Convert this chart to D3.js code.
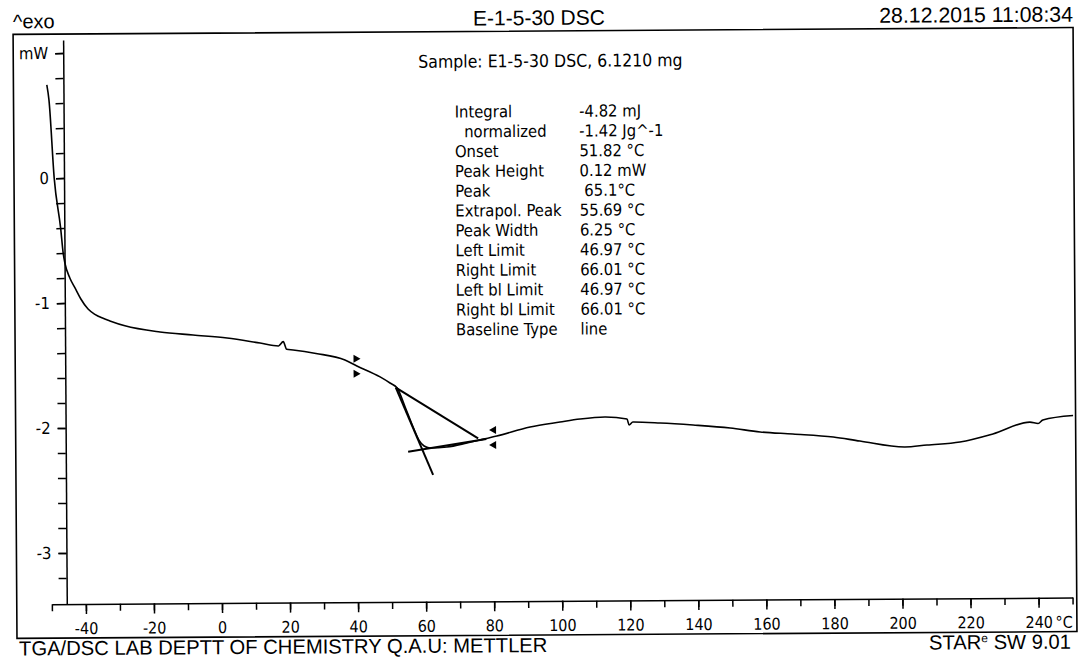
<!DOCTYPE html>
<html>
<head>
<meta charset="utf-8">
<script src="https://cdn.jsdelivr.net/npm/d3@7"></script>
<style>
  body { margin: 0; background: #fff; }
  svg { display: block; background: #fff; }
  .pre { white-space: pre; }
</style>
</head>
<body>
<svg id="chart" width="1083" height="658"></svg>
<script>
// DSC trace (temperature in °C, heat flow in mW)
var temps = [-50.5, -49.9, -48.5, -46.7, -46.0, -45.5, -44.1, -42.6, -40.9, -38.8, -36.8, -34.4, -32.4, -28.0,
  -17.7, -8.0, 2.0, 11.7, 17.1, 18.5, 19.5, 21.4, 28.1, 36.6, 40.1, 46.9, 49.8, 51.9, 54.2, 56.5, 58.2,
  59.7, 61.4, 66.4, 72.3, 76.1, 81.1, 90.9, 99.7, 105.6, 112.9, 119.4, 120.0, 121.1, 129.1, 138.8, 149.7,
  158.5, 168.1, 180.0, 187.8, 201.0, 207.5, 217.2, 226.9, 237.8, 240.2, 241.6, 250.5];
var heatFlow = [0.746, 0.626, -0.002, -0.402, -0.602, -0.682, -0.800, -0.879, -0.968, -1.049, -1.092, -1.124, -1.145, -1.185,
  -1.236, -1.262, -1.288, -1.330, -1.354, -1.320, -1.381, -1.387, -1.416, -1.470, -1.518, -1.607, -1.656, -1.697, -1.849, -2.010, -2.114,
  -2.162, -2.178, -2.171, -2.140, -2.117, -2.086, -2.015, -1.977, -1.954, -1.939, -1.957, -2.005, -1.981, -1.990, -2.008, -2.034,
  -2.067, -2.085, -2.111, -2.145, -2.195, -2.180, -2.158, -2.095, -2.002, -2.014, -1.986, -1.952];

// evaluation lines
var baselineT = [51.5, 75.6];
var baselineMW = [-1.693, -2.103];
var onsetT = [51.5, 62.3];
var onsetMW = [-1.693, -2.394];
var postT = [55.0, 78.0];
var postMW = [-2.207, -2.109];
var limitT = [40, 80];

var yLabels = [1, 0, -1, -2, -3];
var yLabelText = ["mW", "0", "-1", "-2", "-3"];
var xLabels = [-40, -20, 0, 20, 40, 60, 80, 100, 120, 140, 160, 180, 200, 220, 240];
var xUnit = "°C";

var resultNames = ["Integral", "  normalized", "Onset", "Peak Height", "Peak", "Extrapol. Peak", "Peak Width",
  "Left Limit", "Right Limit", "Left bl Limit", "Right bl Limit", "Baseline Type"];
var resultValues = ["-4.82 mJ", "-1.42 Jg^-1", "51.82 °C", "0.12 mW", " 65.1°C", "55.69 °C", "6.25 °C",
  "46.97 °C", "66.01 °C", "46.97 °C", "66.01 °C", "line"];

var sampleText = "Sample: E1-5-30 DSC, 6.1210 mg";
var titleText = "E-1-5-30 DSC";
var dateText = "28.12.2015 11:08:34";
var exoText = "^exo";
var footLeft = "TGA/DSC LAB DEPTT OF CHEMISTRY Q.A.U: METTLER";

var headFont = "'Liberation Sans', Arial, sans-serif";
var bodyFont = "'DejaVu Sans Condensed', 'DejaVu Sans', sans-serif";

function draw() {
  const svg = d3.select("#chart");
  // the scan is turned a little, so the whole sheet is too
  const g = svg.append("g").attr("transform", "rotate(-0.37 541 329)");

  const x = d3.scaleLinear().domain([-50, 250]).range([50.1, 1070.8]);
  const y = d3.scaleLinear().domain([-3.408, 1.104]).range([601, 37]);

  // frame
  g.append("rect")
    .attr("x", 15).attr("y", 31)
    .attr("width", 1060).attr("height", 604)
    .attr("fill", "none").attr("stroke", "#000").attr("stroke-width", 1.6);

  // header / footer
  g.append("text").attr("x", 15).attr("y", 25).text(exoText)
    .attr("font-family", headFont).attr("font-size", 20);
  g.append("text").attr("x", 541).attr("y", 25).attr("text-anchor", "middle").text(titleText)
    .attr("font-family", headFont).attr("font-size", 21);
  g.append("text").attr("x", 1075).attr("y", 25).attr("text-anchor", "end").text(dateText)
    .attr("font-family", headFont).attr("font-size", 21.3);
  g.append("text").attr("x", 17).attr("y", 652).text(footLeft)
    .attr("font-family", headFont).attr("font-size", 20.2);
  const star = g.append("text").attr("x", 1069).attr("y", 652).attr("text-anchor", "end")
    .attr("font-family", headFont).attr("font-size", 20.2);
  star.append("tspan").text("STAR");
  star.append("tspan").text("e").attr("font-size", 12).attr("dy", -7);
  star.append("tspan").text(" SW 9.01").attr("dy", 7);

  // y axis
  const yMinor = d3.axisLeft(y).tickValues(d3.range(-3.2, 1.01, 0.2)).tickSize(8).tickSizeOuter(0).tickFormat("");
  const yMajor = d3.axisLeft(y).tickValues(yLabels).tickSize(8).tickSizeOuter(0)
    .tickPadding(7).tickFormat((d, i) => yLabelText[i]);
  g.append("g").attr("transform", "translate(65,0)").call(yMinor)
    .call(a => a.selectAll("line, path").attr("stroke-width", 1.5));
  g.append("g").attr("transform", "translate(65,0)").call(yMajor)
    .attr("font-family", bodyFont).attr("font-size", 16.5)
    .call(a => a.select(".domain").remove())
    .call(a => a.selectAll("line").attr("stroke-width", 1.5));

  // x axis
  const xMinor = d3.axisBottom(x).tickValues(d3.range(-50, 251, 10)).tickSize(7).tickSizeOuter(0).tickFormat("");
  const xMajor = d3.axisBottom(x).tickValues(xLabels).tickSize(10).tickSizeOuter(0).tickFormat(d => String(d));
  g.append("g").attr("transform", "translate(0,601)").call(xMinor)
    .call(a => a.selectAll("line, path").attr("stroke-width", 1.5));
  const xg = g.append("g").attr("transform", "translate(0,601)").call(xMajor)
    .attr("font-family", bodyFont).attr("font-size", 16)
    .call(a => a.select(".domain").remove())
    .call(a => a.selectAll("line").attr("stroke-width", 1.5));
  xg.selectAll("text").attr("y", 30).attr("dy", 0);
  const last = xg.selectAll(".tick text").filter(d => d == 240).node();
  const lb = last.getBBox();
  xg.append("text")
    .attr("x", x(240) + lb.width / 2 + 3).attr("y", 30)
    .attr("text-anchor", "start")
    .attr("fill", "#000").text(xUnit);

  // evaluation lines
  const straight = d3.line().x(d => x(d[0])).y(d => y(d[1]));
  [[baselineT, baselineMW], [onsetT, onsetMW], [postT, postMW]].forEach(p => {
    g.append("path")
      .attr("d", straight(d3.zip(p[0], p[1])))
      .attr("fill", "none").attr("stroke", "#000").attr("stroke-width", 2);
  });

  // measured curve
  const line = d3.line().x(d => x(d[0])).y(d => y(d[1])).curve(d3.curveMonotoneX);
  g.append("path")
    .attr("d", line(d3.zip(temps, heatFlow)))
    .attr("fill", "none").attr("stroke", "#000").attr("stroke-width", 1.6)
    .attr("stroke-linejoin", "round");

  // limit markers
  const curveAt = d3.scaleLinear().domain(temps).range(heatFlow);
  limitT.forEach((t, i) => {
    let cx = x(t);
    let cy = y(curveAt(t));
    let dir = i == 0 ? 1 : -1;
    let bx = cx - dir * 3;
    [[-11, -3], [4, 12]].forEach(r => {
      g.append("path")
        .attr("d", "M" + bx + "," + (cy + r[0]) + "L" + bx + "," + (cy + r[1]) +
          "L" + (bx + dir * 7) + "," + ((cy + r[0] + cy + r[1]) / 2) + "Z")
        .attr("fill", "#000");
    });
  });

  // result table
  g.append("text").attr("x", 420).attr("y", 67).text(sampleText)
    .attr("font-family", bodyFont).attr("font-size", 17.5);
  const tbl = g.append("g").attr("font-family", bodyFont).attr("font-size", 16.5);
  for (let i = 0; i < resultNames.length; i++) {
    let yy = 117 + i * 19.8;
    let lab = tbl.append("text").attr("class", "pre").attr("x", 456).attr("y", yy).text(resultNames[i]);
    let end = 456 + lab.node().getComputedTextLength();
    tbl.append("text").attr("class", "pre")
      .attr("x", Math.max(580.5, end + 11)).attr("y", yy)
      .text(resultValues[i]);
  }
}

draw();
</script>
</body>
</html>
